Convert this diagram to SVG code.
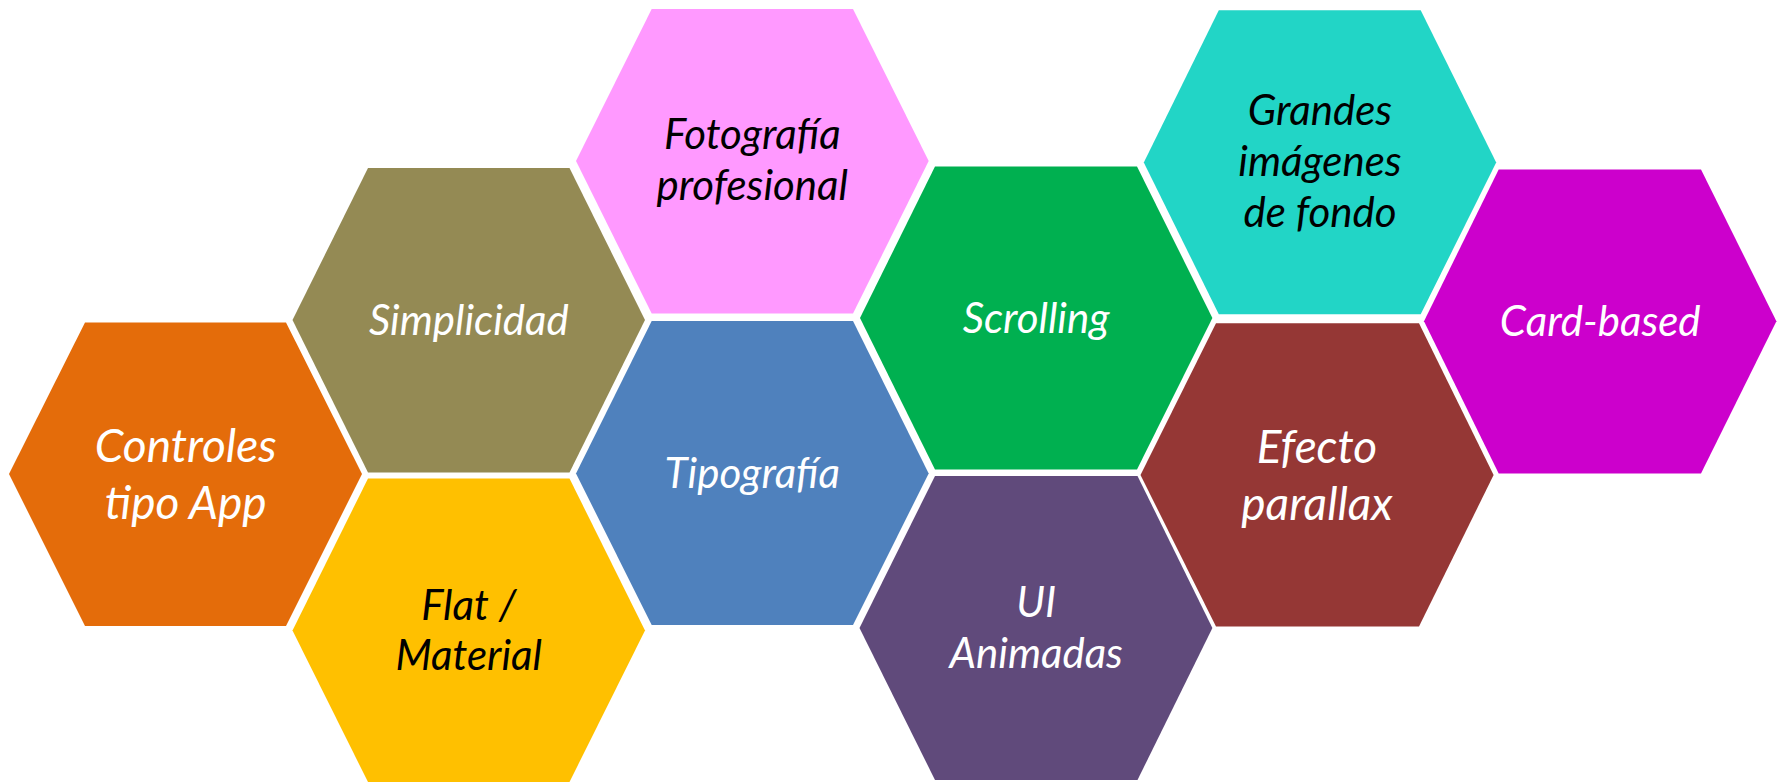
<svg xmlns="http://www.w3.org/2000/svg" width="1787" height="782" viewBox="0 0 1787 782">
<style>
.t{font-family:Lato,"Open Sans","Liberation Sans",sans-serif;font-style:italic;text-anchor:middle}
.s{font-size:42px}
.b{font-size:46px}
.w{fill:#FFFFFF}
.k{fill:#000000}
</style>
<rect width="1787" height="782" fill="#FFFFFF"/>
<g id="controles">
<polygon points="9,474 85,322.5 286,322.5 362,474 286,626 85,626" fill="#E46C0A"/>
<text class="t b w" x="185.7" y="462.4">Controles</text>
<text class="t b w" x="185.7" y="518.8">tipo App</text>
</g>
<g id="simplicidad">
<polygon points="292.5,320 368,168 569.5,168 645,320 569.5,472.5 368,472.5" fill="#948A54"/>
<text class="t s w" x="468.8" y="335.4">Simplicidad</text>
</g>
<g id="flat">
<polygon points="292.5,630.5 368,478.5 569.5,478.5 645,630.5 569.5,782 368,782" fill="#FFC000"/>
<text class="t s k" x="468.8" y="619.6">Flat /</text>
<text class="t s k" x="468.8" y="670">Material</text>
</g>
<g id="fotografia">
<polygon points="576,161 651.7,9 853,9 928.7,161 853,313.5 651.7,313.5" fill="#FF99FF"/>
<text class="t s k" x="752.3" y="149">Fotografía</text>
<text class="t s k" x="752.3" y="200">profesional</text>
</g>
<g id="tipografia">
<polygon points="576,473.5 651.7,321 853,321 928.7,473.5 853,625 651.7,625" fill="#4F81BD"/>
<text class="t s w" x="752.3" y="487.8">Tipografía</text>
</g>
<g id="scrolling">
<polygon points="860,318 935,166.5 1137,166.5 1212.4,318 1137,469.5 935,469.5" fill="#00B050"/>
<text class="t s w" x="1036.2" y="332.7">Scrolling</text>
</g>
<g id="ui">
<polygon points="859.5,628 935,476 1137.5,476 1212.4,628 1137.5,780 935,780" fill="#604A7B"/>
<text class="t s w" x="1036.2" y="617.3">UI</text>
<text class="t s w" x="1036.2" y="668.3">Animadas</text>
</g>
<g id="grandes">
<polygon points="1143.8,162.4 1218.8,10.2 1420.7,10.2 1496.2,162.4 1420.7,314.3 1218.8,314.3" fill="#22D5C6"/>
<text class="t s k" x="1320" y="124.5">Grandes</text>
<text class="t s k" x="1320" y="176.3">imágenes</text>
<text class="t s k" x="1320" y="226.5">de fondo</text>
</g>
<g id="efecto">
<polygon points="1140.5,475 1216,323.3 1419,323.3 1493.6,475 1419,626.5 1216,626.5" fill="#953735"/>
<text class="t b w" x="1317" y="463.3">Efecto</text>
<text class="t b w" x="1317" y="520.4">parallax</text>
</g>
<g id="card">
<polygon points="1424,321.3 1498.7,169.4 1701,169.4 1776.4,321.3 1701,473.5 1498.7,473.5" fill="#CC00CC"/>
<text class="t s w" x="1600.2" y="335.5">Card-based</text>
</g>
<g id="connectors"/>
</svg>
